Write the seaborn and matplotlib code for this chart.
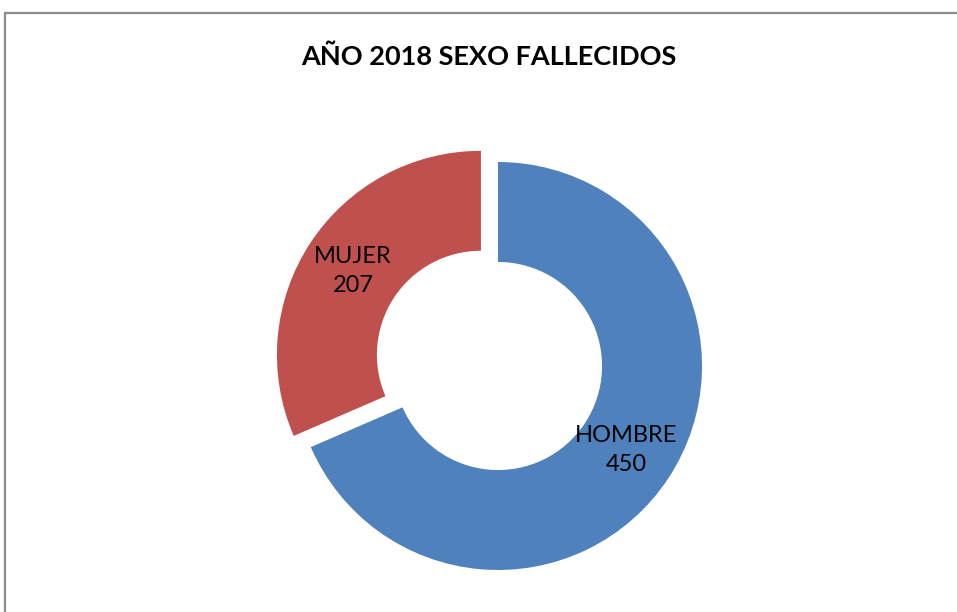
import matplotlib
matplotlib.use("Agg")
import matplotlib.pyplot as plt
import seaborn as sns
from matplotlib.lines import Line2D

# Data
categories = ["HOMBRE", "MUJER"]
values = [450, 207]
title = "AÑO 2018 SEXO FALLECIDOS"

sns.set_theme(style="white")
plt.rcParams['font.family'] = ['Lato', 'DejaVu Sans']

colors = ["#4F81BD", "#C0504D"]
labels = [f"{c}\n{v}" for c, v in zip(categories, values)]

fig = plt.figure(figsize=(9.57, 6.12), dpi=100)
fig.patch.set_facecolor("white")

# axes box sized so the donut radius is ~204 px, centered near (498, 366)
W, H = 957, 612
side = 510
cx, cy = 498, 612 - 366
ax = fig.add_axes([(cx - side / 2) / W, (cy - side / 2) / H, side / W, side / H])

wedges, texts = ax.pie(
    values,
    labels=labels,
    colors=colors,
    startangle=90,
    counterclock=False,
    explode=[0, 0.1],
    labeldistance=0.75,
    wedgeprops=dict(width=0.49, edgecolor="none"),
    textprops=dict(ha="center", va="center", fontsize=17, color="black", linespacing=1.5),
)
ax.set_xlim(-1.25, 1.25)
ax.set_ylim(-1.25, 1.25)

fig.text(0.511, 1 - 57 / H, title, ha="center", va="center",
         fontsize=19.5, fontweight="bold", color="black")

# chart frame (left and top edges visible)
fig.add_artist(Line2D([5 / W, 5 / W], [0, 1 - 13 / H], transform=fig.transFigure,
                      color="#8c8c8c", lw=1.6))
fig.add_artist(Line2D([5 / W, 1], [1 - 13 / H, 1 - 13 / H], transform=fig.transFigure,
                      color="#8c8c8c", lw=1.6))

fig.savefig("out.png", dpi=100, facecolor="white")
